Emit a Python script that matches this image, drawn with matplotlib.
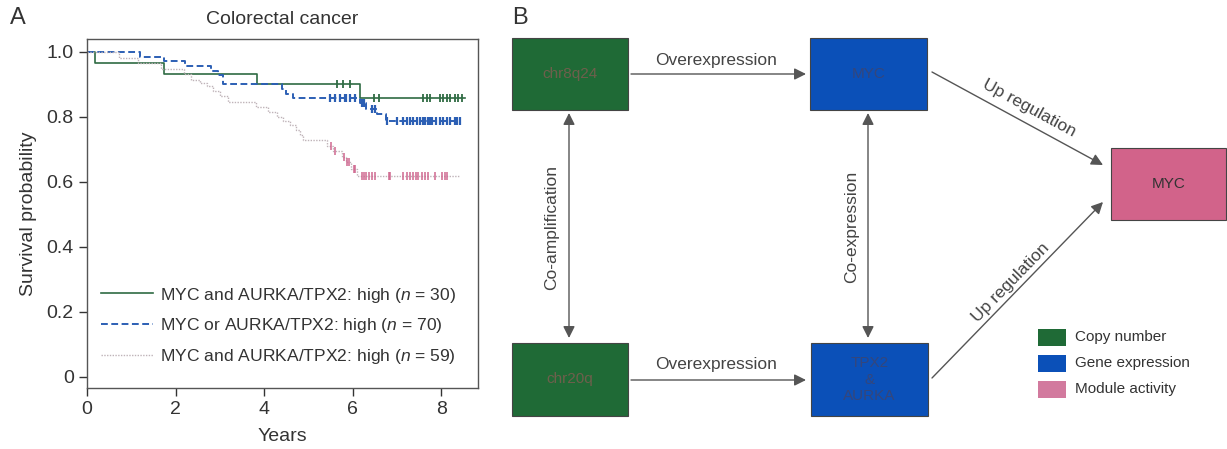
import numpy as np
import matplotlib
matplotlib.use("Agg")
from matplotlib import pyplot as plt
from matplotlib.lines import Line2D
from matplotlib.patches import Rectangle, FancyArrowPatch

plt.rcParams['font.family'] = ['Liberation Sans', 'DejaVu Sans']
plt.rcParams['mathtext.fontset'] = 'custom'
plt.rcParams['mathtext.it'] = 'Liberation Sans:italic'
plt.rcParams['mathtext.rm'] = 'Liberation Sans'

# ---- panel A data ----
green_t = [0, 0.17, 1.73, 3.85, 6.17, 8.53]
green_s = [1.0, 0.967, 0.933, 0.900, 0.859, 0.859]
green_cens = [5.65, 5.78, 5.93, 6.48, 6.60, 7.58, 7.67, 7.74, 7.97, 8.03,
              8.12, 8.19, 8.30, 8.37, 8.46]

blue_t = [0, 1.19, 1.75, 2.22, 2.80, 2.95, 3.07, 4.40, 4.50, 4.65, 6.16,
          6.30, 6.55, 6.75, 8.45]
blue_s = [1.0, 0.986, 0.971, 0.957, 0.943, 0.929, 0.900, 0.886, 0.871,
          0.857, 0.843, 0.826, 0.810, 0.789, 0.789]
blue_cens = [5.48, 5.59, 5.71, 5.82, 5.86, 5.93, 6.05, 6.20, 6.25, 6.43,
             6.50, 6.78, 7.00, 7.13, 7.22, 7.30, 7.37, 7.45, 7.52, 7.58,
             7.64, 7.70, 7.74, 7.80, 7.88, 7.97, 8.04, 8.12, 8.20, 8.30,
             8.36, 8.42]

pink_t = [0, 0.73, 1.15, 1.68, 2.20, 2.35, 2.55, 2.70, 2.85, 3.00, 3.18,
          3.82, 4.09, 4.28, 4.43, 4.58, 4.73, 4.80, 4.88, 5.43, 5.55, 5.75,
          5.85, 5.97, 6.10, 8.42]
pink_s = [1.0, 0.983, 0.966, 0.949, 0.932, 0.915, 0.905, 0.895, 0.881,
          0.864, 0.847, 0.831, 0.814, 0.800, 0.788, 0.775, 0.760, 0.745,
          0.729, 0.712, 0.695, 0.678, 0.660, 0.640, 0.618, 0.618]
pink_cens = [5.50, 5.60, 5.80, 5.88, 5.92, 6.02, 6.06, 6.20, 6.26, 6.30,
             6.37, 6.44, 6.51, 6.81, 6.85, 7.14, 7.22, 7.30, 7.37, 7.42,
             7.48, 7.56, 7.63, 7.71, 7.86, 8.01, 8.09, 8.13]

labels = ["MYC and AURKA/TPX2: high ($n$ = 30)",
          "MYC or AURKA/TPX2: high ($n$ = 70)",
          "MYC and AURKA/TPX2: high ($n$ = 59)"]

# ---- panel B texts ----
legend_b = ["Copy number", "Gene expression", "Module activity"]

GREEN = "#2f6b43"
BLUE = "#2c5fb4"
PINK_LINE = "#bfb3b8"
PINK = "#cf6890"

BOX_GREEN = "#1f6a36"
BOX_BLUE = "#0b50b8"
BOX_PINK = "#d2638a"


def step_value(t, s, x):
    i = np.searchsorted(t, x, side="right") - 1
    return np.asarray(s)[i]


fig = plt.figure(figsize=(12.27, 4.49), dpi=100)

ax = fig.add_axes([87 / 1227, 1 - 388 / 449, 391 / 1227, 349 / 449])
ax.step(green_t, green_s, where="post", color=GREEN, lw=1.2)
ax.step(blue_t, blue_s, where="post", color=BLUE, lw=1.4, ls=(0, (3.5, 1.8)))
ax.step(pink_t, pink_s, where="post", color=PINK_LINE, lw=1.0, ls=(0, (1, 1)))
ax.plot(green_cens, step_value(green_t, green_s, green_cens), ls="none",
        marker="|", ms=6, mew=1.3, color=GREEN)
ax.plot(blue_cens, step_value(blue_t, blue_s, blue_cens), ls="none",
        marker="|", ms=6, mew=1.6, color=BLUE)
ax.plot(pink_cens, step_value(pink_t, pink_s, pink_cens), ls="none",
        marker="|", ms=6, mew=1.1, color=PINK)

ax.set_xlim(0, 8.83)
ax.set_ylim(-0.034, 1.04)
ax.set_xticks([0, 2, 4, 6, 8])
ax.set_yticks([0, 0.2, 0.4, 0.6, 0.8, 1.0])
ax.set_yticklabels(["0", "0.2", "0.4", "0.6", "0.8", "1.0"])
ax.tick_params(labelsize=14, length=6, width=1, colors="#333333")
for sp in ax.spines.values():
    sp.set_color("#555555")
    sp.set_linewidth(1)
ax.set_xlabel("Years", fontsize=14, color="#333333", labelpad=7)
ax.set_ylabel("Survival probability", fontsize=14, color="#333333", labelpad=7)
ax.set_title("Colorectal cancer", fontsize=14, color="#333333", pad=11)

handles = [Line2D([], [], color=GREEN, lw=1.2),
           Line2D([], [], color=BLUE, lw=1.4, ls=(0, (3.5, 1.8))),
           Line2D([], [], color=PINK_LINE, lw=1.0, ls=(0, (1, 1)))]
ax.legend(handles, labels, loc="lower left", bbox_to_anchor=(0.035, 0.062),
          frameon=False, fontsize=12.6, handlelength=3.0, handletextpad=0.4,
          labelspacing=0.68, borderaxespad=0, borderpad=0,
          labelcolor="#333333")

fig.text(10 / 1227, 1 - 18 / 449, "A", fontsize=17, color="#333333",
         va="center", ha="left")

# ---- panel B: diagram drawn in pixel coordinates ----
bx = fig.add_axes([0, 0, 1, 1], zorder=-1)
bx.set_xlim(0, 1227)
bx.set_ylim(449, 0)
bx.axis("off")

fig.text(512 / 1227, 1 - 18 / 449, "B", fontsize=17, color="#333333",
         va="center", ha="left")

boxes = [(512, 38, 116, 72, BOX_GREEN, "chr8q24", "#6e5f4c"),
         (810, 38, 117, 72, BOX_BLUE, "MYC", "#34467c"),
         (512, 343, 116, 73, BOX_GREEN, "chr20q", "#6e5f4c"),
         (811, 343, 117, 73, BOX_BLUE, "TPX2\n&\nAURKA", "#34467c"),
         (1111, 148, 115, 72, BOX_PINK, "MYC", "#333333")]
for x0, y0, w, h, c, txt, tc in boxes:
    bx.add_patch(Rectangle((x0, y0), w, h, facecolor=c, edgecolor="#444444",
                           lw=0.8))
    bx.text(x0 + w / 2, y0 + h / 2, txt, ha="center", va="center",
            fontsize=11, color=tc, linespacing=1.25)

arrow_kw = dict(arrowstyle="-|>,head_length=7,head_width=3.5",
                color="#555555", lw=1.0, shrinkA=0, shrinkB=0,
                mutation_scale=1)
dbl_kw = dict(arrowstyle="<|-|>,head_length=7,head_width=3.5",
              color="#555555", lw=1.0, shrinkA=0, shrinkB=0,
              mutation_scale=1)
arrows = [((631, 74), (806, 74), arrow_kw),
          ((631, 380), (806, 380), arrow_kw),
          ((569, 113), (569, 338), dbl_kw),
          ((868, 113), (868, 338), dbl_kw),
          ((932, 72), (1103, 165), arrow_kw),
          ((932, 378), (1103, 202), arrow_kw)]
for p0, p1, kw in arrows:
    bx.add_patch(FancyArrowPatch(p0, p1, **kw))

txt_kw = dict(fontsize=12.5, color="#444444", ha="center", va="center")
bx.text(716, 60, "Overexpression", **txt_kw)
bx.text(716, 364, "Overexpression", **txt_kw)
bx.text(552, 227, "Co-amplification", rotation=90, **txt_kw)
bx.text(852, 227, "Co-expression", rotation=90, **txt_kw)
bx.text(1029, 108, "Up regulation", rotation=-28.5, **txt_kw)
bx.text(1011, 283, "Up regulation", rotation=45.8, **txt_kw)

leg_cols = [BOX_GREEN, BOX_BLUE, "#d27a9e"]
for i, (lab, c) in enumerate(zip(legend_b, leg_cols)):
    yc = 337 + i * 26
    bx.add_patch(Rectangle((1038, yc - 8.5), 28, 17, facecolor=c,
                           edgecolor="none"))
    bx.text(1075, yc, lab, fontsize=11, color="#333333", ha="left",
            va="center")

fig.savefig("out.png", dpi=100)
